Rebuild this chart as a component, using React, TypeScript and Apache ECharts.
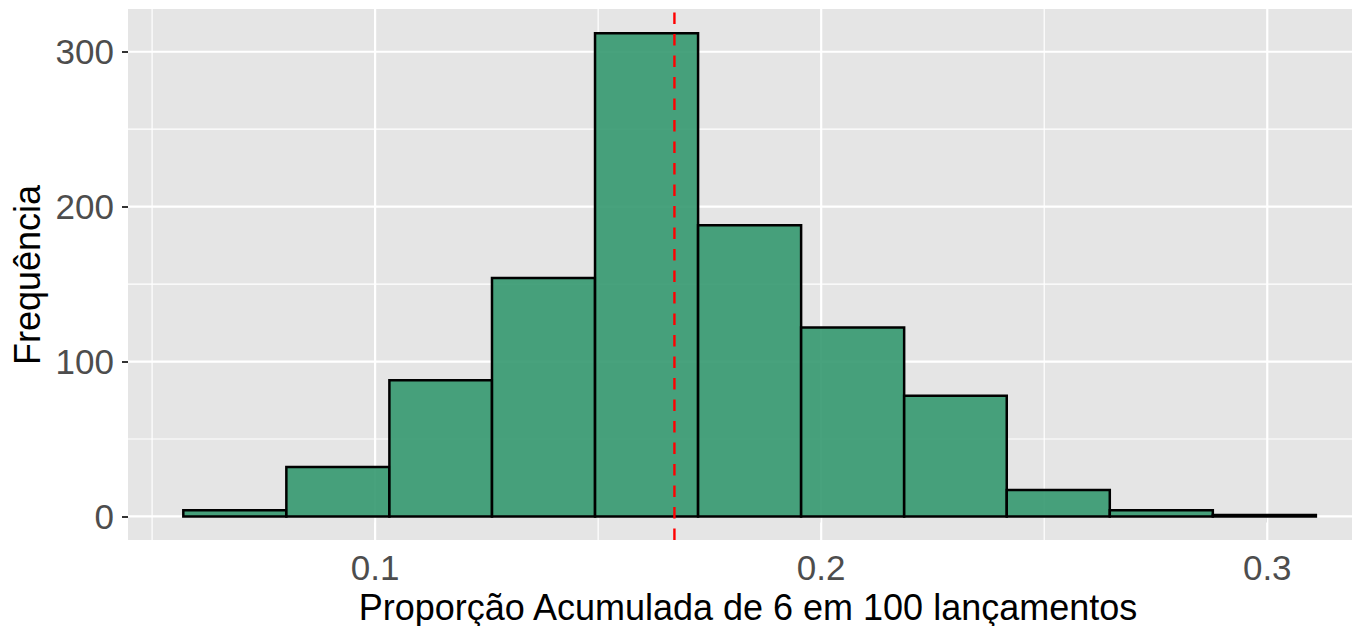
import React, { useEffect, useRef } from "react";
import * as echarts from "echarts";

// ---- data ----
const binEdges = [0.057, 0.0801, 0.1032, 0.1262, 0.1493, 0.1724, 0.1955, 0.2186, 0.2416, 0.2647, 0.2878, 0.3109];
const counts = [4, 32, 88, 154, 312, 188, 122, 78, 17, 4, 1];
const meanValue = 0.1671;
const xTickValues = [0.1, 0.2, 0.3];
const xMinorValues = [0.05, 0.15, 0.25];
const yTickValues = [0, 100, 200, 300];
const yMinorValues = [50, 150, 250];
const xTitle = "Proporção Acumulada de 6 em 100 lançamentos";
const yTitle = "Frequência";

const X_MIN = 0.0446;
const X_MAX = 0.319;
const Y_MIN = -15.2;
const Y_MAX = 327.6;

const FONT = "'Liberation Sans', Arial, Helvetica, sans-serif";

export default function App() {
  const ref = useRef<HTMLDivElement>(null);

  useEffect(() => {
    document.body.style.margin = "0";
    if (!ref.current) return;
    const chart = echarts.init(ref.current, undefined, { renderer: "svg" });

    const bars = counts.map((c, i) => [binEdges[i], binEdges[i + 1], c]);

    const vGrid = (vals: number[], width: number) => ({
      type: "custom",
      silent: true,
      z: 1,
      clip: true,
      data: vals.map((v) => [v, 0]),
      encode: { x: 0, y: 1 },
      renderItem: (params: any, api: any) => {
        const v = api.value(0);
        const p0 = api.coord([v, Y_MIN]);
        const p1 = api.coord([v, Y_MAX]);
        return {
          type: "line",
          shape: { x1: p0[0], y1: p0[1], x2: p1[0], y2: p1[1] },
          style: { stroke: "#FFFFFF", lineWidth: width },
        };
      },
    });

    const hGrid = (vals: number[], width: number) => ({
      type: "custom",
      silent: true,
      z: 1,
      clip: true,
      data: vals.map((v) => [0.1, v]),
      encode: { x: 0, y: 1 },
      renderItem: (params: any, api: any) => {
        const v = api.value(1);
        const p0 = api.coord([X_MIN, v]);
        const p1 = api.coord([X_MAX, v]);
        return {
          type: "line",
          shape: { x1: p0[0], y1: p0[1], x2: p1[0], y2: p1[1] },
          style: { stroke: "#FFFFFF", lineWidth: width },
        };
      },
    });

    const option: any = {
      animation: false,
      grid: {
        left: 128,
        top: 9,
        width: 1224,
        height: 531,
        show: true,
        backgroundColor: "#E5E5E5",
        borderWidth: 0,
      },
      xAxis: {
        type: "value",
        min: X_MIN,
        max: X_MAX,
        axisLine: { show: false },
        splitLine: { show: false },
        axisTick: {
          show: true,
          length: 6,
          customValues: xTickValues,
          lineStyle: { color: "#333333", width: 2 },
        },
        axisLabel: {
          customValues: xTickValues,
          margin: 27,
          verticalAlign: "middle",
          fontSize: 35,
          fontFamily: FONT,
          color: "#4D4D4D",
          formatter: (v: number) => String(Math.round(v * 10) / 10),
        },
      },
      yAxis: {
        type: "value",
        min: Y_MIN,
        max: Y_MAX,
        axisLine: { show: false },
        splitLine: { show: false },
        axisTick: {
          show: true,
          length: 6,
          customValues: yTickValues,
          lineStyle: { color: "#333333", width: 2 },
        },
        axisLabel: {
          customValues: yTickValues,
          margin: 14,
          fontSize: 35,
          fontFamily: FONT,
          color: "#4D4D4D",
          formatter: (v: number) => String(Math.round(v)),
        },
      },
      graphic: [
        {
          type: "text",
          x: 748,
          y: 607,
          style: {
            text: xTitle,
            fontSize: 36,
            fontFamily: FONT,
            fill: "#000000",
            align: "center",
            verticalAlign: "middle",
          },
        },
        {
          type: "text",
          x: 27.5,
          y: 275,
          rotation: Math.PI / 2,
          style: {
            text: yTitle,
            fontSize: 36,
            fontFamily: FONT,
            fill: "#000000",
            align: "center",
            verticalAlign: "middle",
          },
        },
      ],
      series: [
        vGrid(xMinorValues, 1.2),
        hGrid(yMinorValues, 1.2),
        vGrid(xTickValues, 2.2),
        hGrid(yTickValues, 2.2),
        {
          type: "custom",
          z: 2,
          data: bars,
          encode: { x: [0, 1], y: 2 },
          renderItem: (params: any, api: any) => {
            const x0 = api.value(0);
            const x1 = api.value(1);
            const y = api.value(2);
            const p0 = api.coord([x0, y]);
            const p1 = api.coord([x1, 0]);
            return {
              type: "rect",
              shape: { x: p0[0], y: p0[1], width: p1[0] - p0[0], height: p1[1] - p0[1] },
              style: { fill: "rgba(52,152,111,0.9)", stroke: "#000000", lineWidth: 2.5 },
            };
          },
        },
        {
          type: "custom",
          z: 3,
          silent: true,
          data: [[meanValue, 0]],
          encode: { x: 0, y: 1 },
          renderItem: (params: any, api: any) => {
            const v = api.value(0);
            const p0 = api.coord([v, Y_MIN]);
            const p1 = api.coord([v, Y_MAX]);
            return {
              type: "line",
              shape: { x1: p0[0], y1: p0[1], x2: p1[0], y2: p1[1] },
              style: { stroke: "#FF0000", lineWidth: 2.4, lineDash: [11.5, 10] },
            };
          },
        },
      ],
    };

    chart.setOption(option);
    return () => chart.dispose();
  }, []);

  return <div ref={ref} style={{ width: 1352, height: 626 }} />;
}
